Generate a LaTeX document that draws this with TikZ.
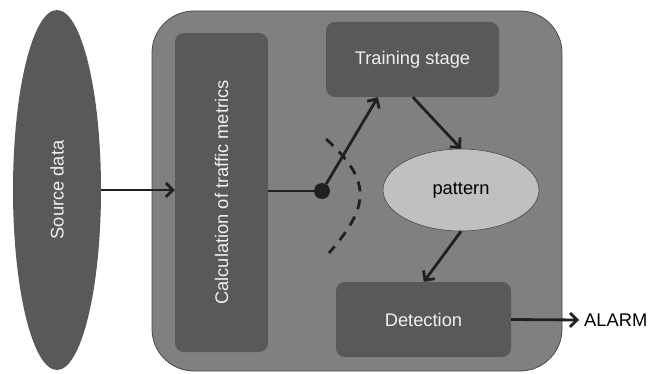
\documentclass[tikz,border=0pt]{standalone}
\usepackage{fontspec}
\setmainfont{Liberation Sans}
\usetikzlibrary{arrows.meta,shapes.geometric}
\definecolor{outerfill}{HTML}{808080}
\definecolor{darkfill}{HTML}{58595B}
\definecolor{lightfill}{HTML}{BFC0C2}
\definecolor{edgecol}{HTML}{4A4A4A}
\definecolor{inkcol}{HTML}{231F20}
\tikzset{
  txt/.style={font=\fontsize{18.3}{21}\selectfont},
  darkbox/.style={fill=darkfill, draw=none, rounded corners=9pt, text=white!94!black, txt, inner sep=0pt},
  arr/.style={draw=inkcol, line width=2.8pt, -{Straight Barb[length=7pt,width=14pt]}},
  plain/.style={draw=inkcol, line width=2.8pt},
}
\begin{document}
\begin{tikzpicture}[x=1pt,y=-1pt]
\useasboundingbox (0,0) rectangle (656,374);
\node[ellipse, fill=darkfill, minimum width=88pt, minimum height=360pt, inner sep=0pt] (src) at (57,190) {};
\node[rotate=90, text=white!94!black, txt] (srclbl) at (src.center) {Source data};
\node[fill=outerfill, draw=edgecol, line width=0.8pt, rounded corners=42pt, minimum width=410pt, minimum height=360pt, inner sep=0pt] (outer) at (357,191) {};
\node[darkbox, rotate=90, minimum width=319pt, minimum height=93pt] (calc) at (221.5,192.5) {Calculation of traffic metrics};
\node[darkbox, minimum width=173pt, minimum height=75pt] (train) at (412.5,59.5) {Training stage};
\node[ellipse, fill=lightfill, draw=edgecol, line width=0.6pt, minimum width=156pt, minimum height=82pt, inner sep=0pt, txt] (pat) at (461,190) {pattern};
\node[darkbox, minimum width=175pt, minimum height=75pt] (det) at (423.5,319.5) {Detection};
\node[anchor=west, inner xsep=5pt, inner ysep=0pt, txt] (alarm) at (579,320) {ALARM};
\node[circle, fill=inkcol, inner sep=0pt, minimum size=16pt] (dot) at (322,191) {};
\draw[arr] (src.east) -- (calc.north |- src.east);
\draw[plain] (calc.south |- dot) -- (dot);
\draw[arr] (dot) -- ([xshift=52pt]train.south west);
\draw[arr] ([xshift=87pt]train.south west) -- (pat.north);
\draw[arr] (pat.south) -- ([xshift=88pt]det.north west);
\draw[arr] (det.east) -- (alarm.west);
\draw[draw=inkcol, line width=2.8pt, dash pattern=on 10pt off 8pt] (326,139) .. controls (371,180) and (371,205) .. (329,253);
\end{tikzpicture}
\end{document}
